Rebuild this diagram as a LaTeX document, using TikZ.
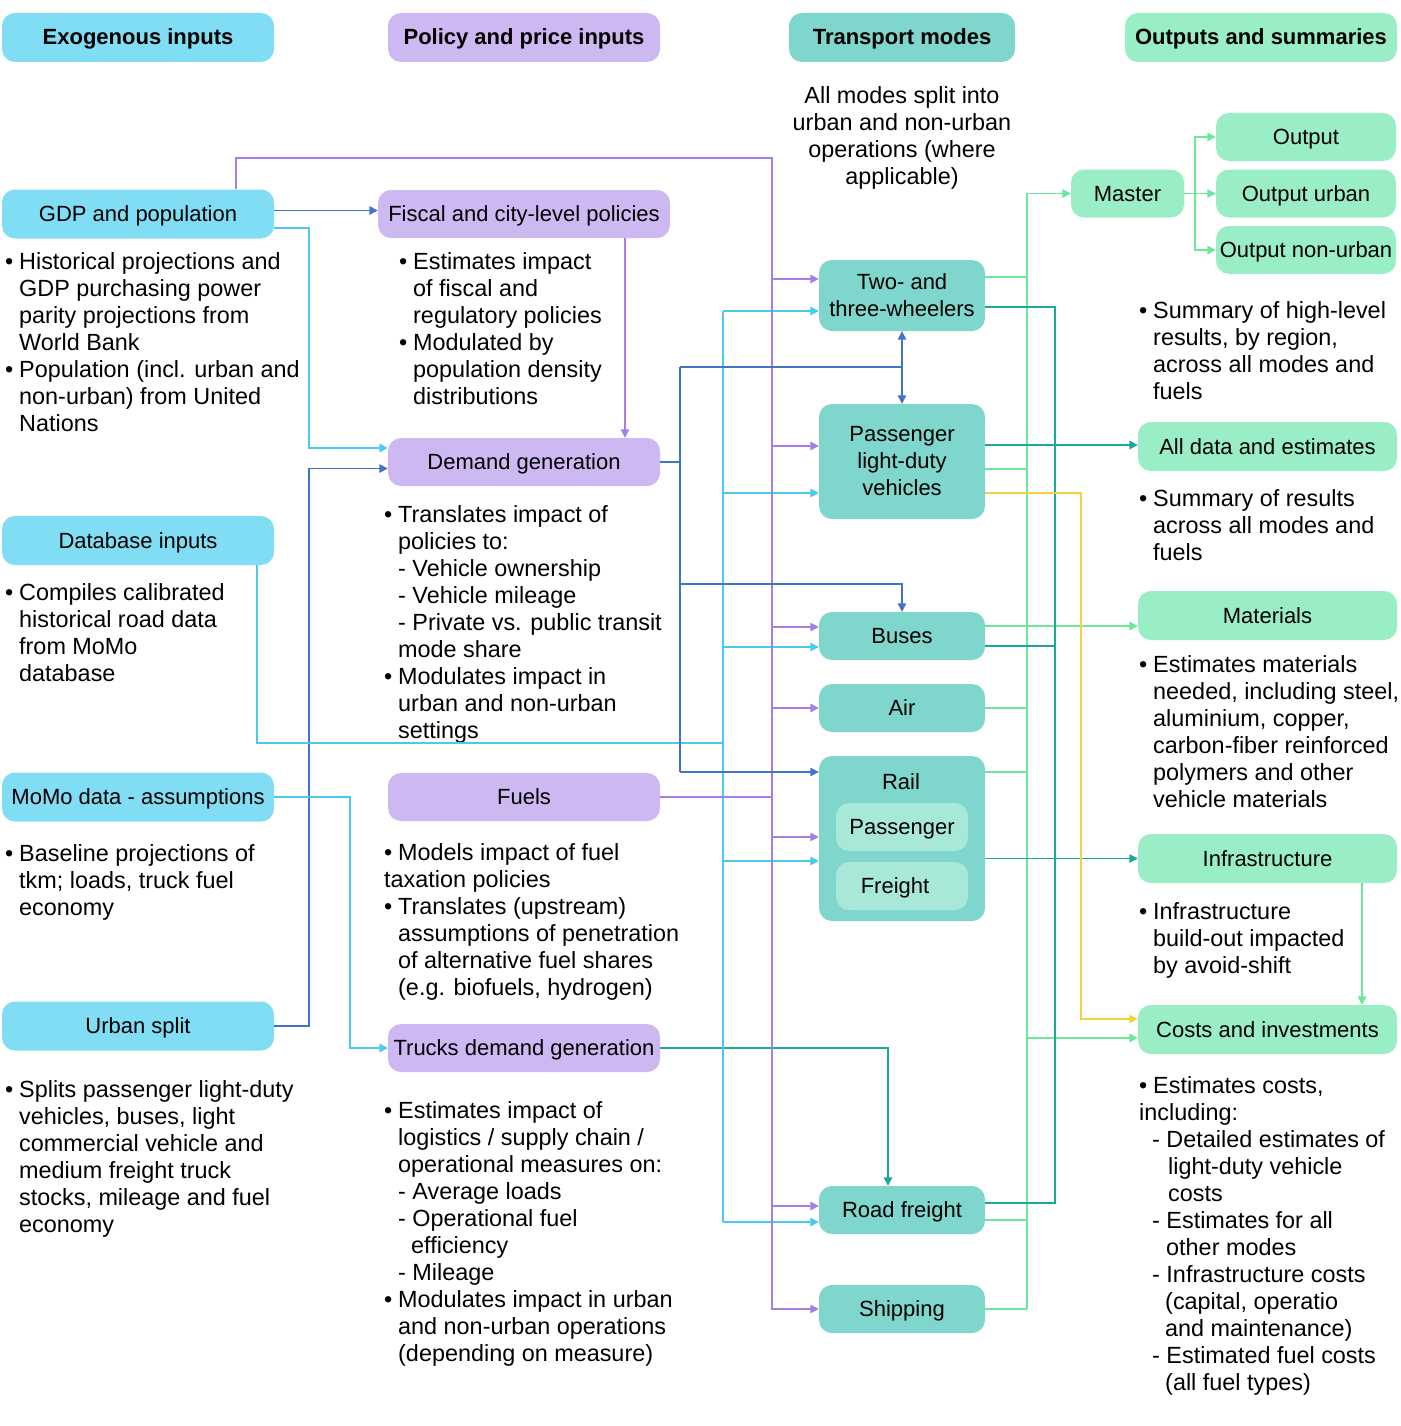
\documentclass[tikz,border=0pt]{standalone}
\usepackage{fontspec}
\setmainfont{Liberation Sans}
\usetikzlibrary{arrows.meta,calc}
\definecolor{fexo}{HTML}{80DDF4}
\definecolor{fpol}{HTML}{CDB8F2}
\definecolor{ftra}{HTML}{7ED6CC}
\definecolor{fout}{HTML}{99EEC5}
\definecolor{finn}{HTML}{A8E8D9}
\definecolor{cB}{HTML}{4472C8}
\definecolor{cC}{HTML}{4CC8F0}
\definecolor{cP}{HTML}{A67EE8}
\definecolor{cT}{HTML}{1BA89B}
\definecolor{cG}{HTML}{6BE89A}
\definecolor{cY}{HTML}{F7D13D}
\newcommand\bodyfont{\fontsize{23.4}{27}\selectfont}
\newcommand\lblfont{\fontsize{22}{27}\selectfont}
\newcommand\bl{\makebox[14pt][l]{\textbullet}}
\newcommand\ind{\hspace*{14pt}}
\begin{document}
\begin{tikzpicture}[x=1pt,y=-1pt,
 box/.style={rounded corners=13pt, inner sep=0pt, align=center, font=\lblfont},
 one/.style={text height=17.5pt, text depth=2.5pt},
 hdr/.style={box,one,minimum height=49pt,font=\lblfont\bfseries},
 exo/.style={box,one,fill=fexo,minimum width=272pt,minimum height=49pt},
 pol/.style={box,one,fill=fpol,minimum width=272pt,minimum height=48pt},
 tra/.style={box,fill=ftra,minimum width=166pt,minimum height=48pt},
 outb/.style={box,one,fill=fout,minimum height=49pt},
 txt/.style={anchor=north west, inner sep=0pt, align=left, font=\bodyfont},
 ln/.style={line width=1.5pt},
 arr/.style={-{Triangle[length=8.5pt,width=8.5pt]}},
]
\fill[white] (0,0) rectangle (1400,1426);
\useasboundingbox (0,0) rectangle (1400,1426);

% headers
\node[hdr,fill=fexo,minimum width=272pt] (hexo) at (138,37.5) {Exogenous inputs};
\node[hdr,fill=fpol,minimum width=272pt] (hpol) at (524,37.5) {Policy and price inputs};
\node[hdr,fill=ftra,minimum width=226pt] (htra) at (902,37.5) {Transport modes};
\node[hdr,fill=fout,minimum width=272pt] (hout) at (1261,37.5) {Outputs and summaries};

% exogenous column
\node[exo] (gdp) at (138,214) {GDP and population};
\node[txt] (tgdp) at (5,250) {\strut\bl Historical projections and\\\ind GDP purchasing power\\\ind parity projections from\\\ind World Bank\\\bl Population (incl. urban and\\\ind non-urban) from United\\\ind Nations};
\node[exo] (dbase) at (138,540.5) {Database inputs};
\node[txt] (tdb) at (5,581) {\strut\bl Compiles calibrated\\\ind historical road data\\\ind from MoMo\\\ind database};
\node[exo] (momo) at (138,797) {MoMo data - assumptions};
\node[txt] (tmomo) at (5,842) {\strut\bl Baseline projections of\\\ind tkm; loads, truck fuel\\\ind economy};
\node[exo] (urban) at (138,1026) {Urban split};
\node[txt] (turban) at (5,1078) {\strut\bl Splits passenger light-duty\\\ind vehicles, buses, light\\\ind commercial vehicle and\\\ind medium freight truck\\\ind stocks, mileage and fuel\\\ind economy};

% policy column
\node[pol,minimum width=292pt] (fiscal) at (524,214) {Fiscal and city-level policies};
\node[txt] (tfiscal) at (399,250) {\strut\bl Estimates impact\\\ind of fiscal and\\\ind regulatory policies\\\bl Modulated by\\\ind population density\\\ind distributions};
\node[pol] (demand) at (524,462) {Demand generation};
\node[txt] (tdemand) at (384,503) {\strut\bl Translates impact of\\\ind policies to:\\\ind - Vehicle ownership\\\ind - Vehicle mileage\\\ind - Private vs. public transit\\\ind mode share\\\bl Modulates impact in\\\ind urban and non-urban\\\ind settings};
\node[pol] (fuels) at (524,797) {Fuels};
\node[txt] (tfuels) at (384,841) {\strut\bl Models impact of fuel\\taxation policies\\\bl Translates (upstream)\\\ind assumptions of penetration\\\ind of alternative fuel shares\\\ind (e.g. biofuels, hydrogen)};
\node[pol] (trucks) at (524,1048) {Trucks demand generation};
\node[txt] (ttrucks) at (384,1099) {\strut\bl Estimates impact of\\\ind logistics / supply chain /\\\ind operational measures on:\\\ind - Average loads\\\ind - Operational fuel\\\hspace*{27pt}efficiency\\\ind - Mileage\\\bl Modulates impact in urban\\\ind and non-urban operations\\\ind (depending on measure)};

% transport modes
\node[anchor=north, inner sep=0pt, align=center, font=\bodyfont] (tnote) at (902,84) {\strut All modes split into\\urban and non-urban\\operations (where\\applicable)};
\node[tra,minimum height=71pt] (two) at (902,295.5) {\raisebox{-2pt}{Two- and}\\\raisebox{-2pt}{three-wheelers}};
\node[tra,minimum height=115pt] (pldv) at (902,461.5) {Passenger\\light-duty\\vehicles};
\node[tra,one] (bus) at (902,636) {Buses};
\node[tra,one] (air) at (902,708) {Air};
\node[tra,minimum height=165pt] (rail) at (902,838.5) {};
\node[inner sep=0pt, font=\lblfont, text height=17.5pt, text depth=2.5pt] (raillbl) at (901,782) {Rail};
\node[box,one,fill=finn,minimum width=132pt,minimum height=48pt] (rpass) at (902,827) {Passenger};
\node[box,one,fill=finn,minimum width=132pt,minimum height=48pt] (rfreight) at (902,886) {\hspace*{-14pt}Freight};
\node[tra,one] (road) at (902,1210) {Road freight};
\node[tra,one] (ship) at (902,1309) {Shipping};

% outputs
\node[outb,minimum width=113pt,minimum height=48pt] (master) at (1127.5,193.5) {Master};
\node[outb,minimum width=180pt,minimum height=48pt] (out1) at (1306,137) {Output};
\node[outb,minimum width=180pt,minimum height=48pt] (out2) at (1306,193.5) {Output urban};
\node[outb,minimum width=180pt,minimum height=48pt] (out3) at (1306,250) {Output non-urban};
\node[txt] (tout) at (1139,299) {\strut\bl Summary of high-level\\\ind results, by region,\\\ind across all modes and\\\ind fuels};
\node[outb,minimum width=259pt] (alldata) at (1267.5,446.5) {All data and estimates};
\node[txt] (tall) at (1139,487) {\strut\bl Summary of results\\\ind across all modes and\\\ind fuels};
\node[outb,minimum width=259pt] (mat) at (1267.5,615.5) {Materials};
\node[txt] (tmat) at (1139,653) {\strut\bl Estimates materials\\\ind needed, including steel,\\\ind aluminium, copper,\\\ind carbon-fiber reinforced\\\ind polymers and other\\\ind vehicle materials};
\node[outb,minimum width=259pt] (infra) at (1267.5,858.5) {Infrastructure};
\node[txt] (tinfra) at (1139,900) {\strut\bl Infrastructure\\\ind build-out impacted\\\ind by avoid-shift};
\node[outb,minimum width=259pt] (costs) at (1267.5,1029.5) {Costs and investments};
\node[txt] (tcosts) at (1139,1074) {\strut\bl Estimates costs,\\including:\\\hspace*{13pt}- Detailed estimates of\\\hspace*{29pt}light-duty vehicle\\\hspace*{29pt}costs\\\hspace*{13pt}- Estimates for all\\\hspace*{27pt}other modes\\\hspace*{13pt}- Infrastructure costs\\\hspace*{26pt}(capital, operatio\\\hspace*{26pt}and maintenance)\\\hspace*{13pt}- Estimated fuel costs\\\hspace*{26pt}(all fuel types)};

% bus coordinates
\coordinate (ptop) at (772,158);
\coordinate (ctop) at (723,311);
\coordinate (cmid) at (723,743);
\coordinate (cbot) at (723,1222);
\coordinate (btop) at (680,367);
\coordinate (bbus) at (680,584);
\coordinate (bbot) at (680,772);
\coordinate (gtop) at (1027,193);
\coordinate (gbot) at (1027,1309);
\coordinate (ttop) at (1055,307);
\coordinate (tbot) at (1055,1203);
\coordinate (mj) at (1195,193.5);

% left-side connectors
\draw[ln,cB,arr] ($(gdp.east)+(0,-3.5)$) -- ($(fiscal.west)+(0,-3.5)$);
\draw[ln,cC,arr] ($(gdp.east)+(0,14)$) -| ($(demand.west)+(-79,-14)$) -- ($(demand.west)+(0,-14)$);
\draw[ln,cB,arr] (urban.east) -| ($(demand.west)+(-79,6.5)$) -- ($(demand.west)+(0,6.5)$);
\draw[ln,cP,arr] ($(fiscal.south)+(101,0)$) -- ($(demand.north)+(101,0)$);
\draw[ln,cC,arr] (momo.east) -| ($(trucks.west)+(-38,0)$) -- (trucks.west);
\draw[ln,cT,arr] (trucks.east) -| ($(road.north)+(-14,0)$);

% cyan bus
\draw[ln,cC] ($(dbase.south)+(119,0)$) |- (cmid);
\draw[ln,cC] (ctop) -- (cbot);
\foreach \n/\d in {two/15.5, pldv/31.5, bus/11, rail/22.5, road/12}{
  \coordinate (cp-\n) at ($(\n.west)+(0,\d)$);
  \draw[ln,cC,arr] (ctop |- cp-\n) -- (cp-\n);
}

% purple bus
\draw[ln,cP,arr] ($(gdp.north)+(98,0)$) |- (ptop) |- (ship.west);
\foreach \n/\d in {two/-16.5, pldv/-15.5, bus/-9, air/0, rail/-1.5, road/-4}{
  \coordinate (pp-\n) at ($(\n.west)+(0,\d)$);
  \draw[ln,cP,arr] (ptop |- pp-\n) -- (pp-\n);
}
\draw[ln,cP] (fuels.east) -- (ptop |- fuels.east);

% blue from demand generation
\draw[ln,cB] (demand.east) -- (demand.east -| btop);
\draw[ln,cB] (btop) -- (bbot);
\draw[ln,cB,arr] (bbot) -- (rail.west |- bbot);
\draw[ln,cB] (btop) -- (btop -| two.south);
\draw[ln,cB,arr] (btop -| two.south) -- (two.south);
\draw[ln,cB,arr] (btop -| two.south) -- (pldv.north);
\draw[ln,cB,arr] (bbus) -| (bus.north);

% green bus
\draw[ln,cG,arr] (gbot) |- (master.west);
\foreach \n/\d in {two/-18.5, pldv/7.5, air/0, rail/-66.5, road/10, ship/0}{
  \coordinate (gp-\n) at ($(\n.east)+(0,\d)$);
  \draw[ln,cG] (gp-\n) -- (gtop |- gp-\n);
}
\coordinate (gc) at ($(costs.west)+(0,8.5)$);
\draw[ln,cG,arr] (gtop |- gc) -- (gc);
\coordinate (gb) at ($(bus.east)+(0,-10)$);
\draw[ln,cG,arr] (gb) -- (mat.west |- gb);

% teal bus
\draw[ln,cT] ($(two.east)+(0,11.5)$) -- (ttop) -- (tbot) -- (road.east |- tbot);
\coordinate (tb) at ($(bus.east)+(0,10)$);
\draw[ln,cT] (tb) -- (ttop |- tb);
\coordinate (tp) at ($(pldv.east)+(0,-16.5)$);
\draw[ln,cT,arr] (tp) -- (alldata.west |- tp);
\coordinate (tr) at ($(rail.east)+(0,20)$);
\draw[ln,cT,arr] (tr) -- (infra.west |- tr);

% yellow
\coordinate (yp) at ($(pldv.east)+(0,31.5)$);
\coordinate (yc) at ($(costs.west)+(0,-10.5)$);
\draw[ln,cY,arr] (yp) -| ($(yc)+(-57,0)$) -- (yc);

% master to outputs
\draw[ln,cG,arr] (master.east) -- (out2.west);
\draw[ln,cG,arr] (mj) |- (out1.west);
\draw[ln,cG,arr] (mj) |- (out3.west);

% infrastructure to costs
\draw[ln,cG,arr] ($(infra.south)+(94.5,0)$) -- ($(costs.north)+(94.5,0)$);
\end{tikzpicture}
\end{document}
